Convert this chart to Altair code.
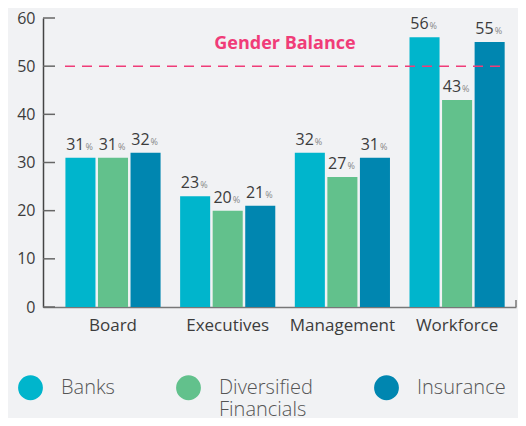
import altair as alt
import pandas as pd

categories = ["Board", "Executives", "Management", "Workforce"]
series_names = ["Banks", "Diversified Financials", "Insurance"]
banks = [31, 23, 32, 56]
diversified = [31, 20, 27, 43]
insurance = [32, 21, 31, 55]
colors = ["#00b5cc", "#62c18c", "#0086b0"]
y_ticks = [0, 10, 20, 30, 40, 50, 60]
balance = 50

rows = []
for s, vals in zip(series_names, [banks, diversified, insurance]):
    for c, v in zip(categories, vals):
        rows.append({"category": c, "series": s, "value": v})
df = pd.DataFrame(rows)

FONT = "Open Sans"
W, H = 473, 289

xenc = alt.X("category:N", sort=categories,
             scale=alt.Scale(paddingInner=0, paddingOuter=0.062, align=0.89),
             axis=alt.Axis(title=None, labelAngle=0, ticks=False, domainColor="#777777",
                           domainWidth=1.5, labelFontSize=17, labelColor="#3c3c3c",
                           labelPadding=10, labelFont=FONT))
xoff = alt.XOffset("series:N", sort=series_names,
                   scale=alt.Scale(paddingInner=0.077, paddingOuter=0.30))
yenc = alt.Y("value:Q", scale=alt.Scale(domain=[0, 60], nice=False),
             axis=alt.Axis(title=None, values=y_ticks, ticks=False, grid=False,
                           domainColor="#444444", domainWidth=1.5, labelFontSize=16,
                           labelColor="#3c3c3c", labelPadding=8, labelFont=FONT))

base = alt.Chart(df)

label_expr = ("datum.label == 'Diversified Financials' ? ['Diversified', 'Financials'] "
              ": [datum.label, '']")

bars = base.mark_bar().encode(
    x=xenc, xOffset=xoff, y=yenc,
    color=alt.Color("series:N", sort=series_names,
                    scale=alt.Scale(domain=series_names, range=colors),
                    legend=alt.Legend(title=None, orient="none", legendX=-25, legendY=357,
                                      direction="horizontal", columns=3, columnPadding=61,
                                      symbolType="circle", symbolSize=616, symbolStrokeWidth=0,
                                      symbolOpacity=1, labelFontSize=20, labelColor="#555555",
                                      labelFont=FONT, labelFontWeight=300, labelOffset=18,
                                      labelLimit=200, labelBaseline="middle", padding=0,
                                      labelExpr=label_expr)),
)

nums = base.mark_text(align="right", baseline="alphabetic", dx=4, dy=-8,
                      fontSize=16, color="#3c3c3c", font=FONT).encode(
    x=alt.X("category:N", sort=categories), xOffset=alt.XOffset("series:N", sort=series_names),
    y="value:Q", text=alt.Text("value:Q"))
pct = base.mark_text(align="left", baseline="alphabetic", dx=5, dy=-8,
                     fontSize=9, color="#888888", font=FONT).encode(
    x=alt.X("category:N", sort=categories), xOffset=alt.XOffset("series:N", sort=series_names),
    y="value:Q", text=alt.value("%"))

tick_df = pd.DataFrame({"t": y_ticks})
ticks = alt.Chart(tick_df).mark_rule(color="#666666", strokeWidth=1.5).encode(
    y="t:Q", x=alt.value(0), x2=alt.value(12))

end_tick = alt.Chart(pd.DataFrame({"t": [0]})).mark_rule(color="#777777", strokeWidth=1.5).encode(
    x=alt.value(W), y=alt.value(H - 7), y2=alt.value(H))

line_df = pd.DataFrame({"v": [balance]})
bal_line = alt.Chart(line_df).mark_rule(color="#f03c78", strokeWidth=1.5, strokeDash=[10, 7]).encode(
    y="v:Q", x=alt.value(22), x2=alt.value(463))
bal_text = alt.Chart(pd.DataFrame({"label": ["Gender Balance"], "v": [54.6]})).mark_text(
    fontSize=18, fontWeight="bold", color="#f03c78", font=FONT).encode(
    y="v:Q", x=alt.value(242), text="label:N")

chart = alt.layer(bars, nums, pct, ticks, end_tick, bal_line, bal_text).properties(
    width=W, height=H,
    autosize=alt.AutoSizeParams(type="none"),
    padding={"left": 35, "top": 10, "right": 2, "bottom": 111},
    background="#f1f2f4",
).configure_view(stroke=None)

chart.save("out.html", embed_options={"renderer": "svg", "actions": False})
